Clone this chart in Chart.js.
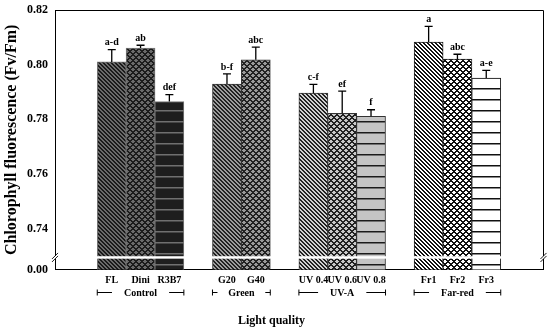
<!DOCTYPE html>
<html><head><meta charset="utf-8">
<script src="https://cdn.jsdelivr.net/npm/chart.js@4.4.0/dist/chart.umd.min.js"></script>
<style>html,body{margin:0;padding:0;background:#fff}#wrap{width:550px;height:333px}</style>
</head><body><div id="wrap"><canvas id="c" width="550" height="333"></canvas></div>
<script>
// ---- data ----
const treatments = ['FL','Dini','R3B7','G20','G40','UV 0.4','UV 0.6','UV 0.8','Fr1','Fr2','Fr3'];
const slotIndex  = [0,1,2,4,5,7,8,9,11,12,13];
const fvfm       = [0.8010,0.8061,0.7865,0.7929,0.8018,0.7896,0.7822,0.7811,0.8083,0.8020,0.7951];
const stdErr     = [0.0045,0.0010,0.0025,0.0037,0.0046,0.0032,0.0081,0.0024,0.0057,0.0018,0.0028];
const letters    = ['a-d','ab','def','b-f','abc','c-f','ef','f','a','abc','a-e'];
const groups       = ['Control','Green','UV-A','Far-red'];
const groupFirst   = [0,3,5,8];
const groupLast    = [2,4,7,10];
const yTickValues  = [0.74,0.76,0.78,0.80,0.82];
const yZeroLabel   = '0.00';
const axisBottom   = 0.725;   // value position where the broken axis shows 0.00
const breakLow     = 0.7290;  // axis break gap
const breakHigh    = 0.7299;

const SERIF = "'Liberation Serif','Times New Roman',serif";

// ---- fill patterns ----
function tile(w,h,fn){
  const c=document.createElement('canvas');c.width=w;c.height=h;
  const g=c.getContext('2d');
  for(let y=0;y<h;y++)for(let x=0;x<w;x++){g.fillStyle=fn(x,y);g.fillRect(x,y,1,1);}
  return g.createPattern(c,'repeat');
}
function diag(light,dark){return tile(4,4,(x,y)=>(((x-y+8)%4)<2)?dark:light);}
function cross(light,dark){const p=6;return tile(p,p,(x,y)=>((((x-y+2*p)%p)<2)||(((x+y)%p)<2))?dark:light);}
function horiz(bg,line,mid){return tile(1,11,(x,y)=>y===0?line:(y===1?mid:bg));}

const fills = [
  diag('#6a6a6a','#1a1a1a'),
  cross('#6a6a6a','#1c1c1c'),
  horiz('#1e1e1e','#707070','#474747'),
  diag('#9c9c9c','#222'),
  cross('#9a9a9a','#222'),
  diag('#d0d0d0','#222'),
  cross('#c8c8c8','#222'),
  horiz('#c4c4c4','#1a1a1a','#707070'),
  diag('#ffffff','#111'),
  cross('#ffffff','#111'),
  horiz('#ffffff','#111','#888')
];
const borders = ['#777','#777','#777','#333','#333','#333','#333','#333','#222','#222','#222'];

// ---- plugin drawing error bars, letters, break, frame, group brackets ----
const decor = {
  id:'decor',
  afterDatasetsDraw(chart){
    const {ctx,chartArea:a,scales:{x,y}} = chart;
    ctx.save();
    const yb1=y.getPixelForValue(breakHigh), yb2=y.getPixelForValue(breakLow);
    ctx.fillStyle='#fff';
    ctx.fillRect(a.left+1,yb1,a.right-a.left-2,yb2-yb1);
    const meta=chart.getDatasetMeta(0);
    ctx.strokeStyle='#000';ctx.lineWidth=1.3;
    ctx.font='bold 10px '+SERIF;ctx.fillStyle='#000';ctx.textAlign='center';ctx.textBaseline='bottom';
    meta.data.forEach((el,i)=>{
      const yt=y.getPixelForValue(fvfm[i]+stdErr[i]);
      ctx.beginPath();
      ctx.moveTo(el.x,el.y);ctx.lineTo(el.x,yt);
      ctx.moveTo(el.x-4,yt);ctx.lineTo(el.x+4,yt);
      ctx.stroke();
      ctx.fillText(letters[i],el.x,yt-2);
    });
    ctx.restore();
  },
  afterDraw(chart){
    const {ctx,chartArea:a,scales:{x,y}} = chart;
    ctx.save();
    ctx.strokeStyle='#000';ctx.lineWidth=1;
    ctx.beginPath();
    ctx.moveTo(a.left,a.top+0.5);ctx.lineTo(a.right+0.5,a.top+0.5);ctx.lineTo(a.right+0.5,a.bottom);
    ctx.stroke();
    const yb=(y.getPixelForValue(breakHigh)+y.getPixelForValue(breakLow))/2;
    [a.left,a.right+0.5].forEach(xx=>{
      ctx.fillStyle='#fff';ctx.fillRect(xx-2,yb-1.5,4,3);
      ctx.beginPath();
      ctx.moveTo(xx-3,yb+1.5);ctx.lineTo(xx+3,yb-4.5);
      ctx.moveTo(xx-3,yb+4.5);ctx.lineTo(xx+3,yb-1.5);
      ctx.lineWidth=0.9;ctx.stroke();
    });
    ctx.font='bold 10px '+SERIF;ctx.fillStyle='#000';ctx.textAlign='center';ctx.textBaseline='alphabetic';
    const half=14.5, gy=292.5, gap=12;
    ctx.lineWidth=1;
    groups.forEach((g,k)=>{
      const x0=x.getPixelForValue(slotIndex[groupFirst[k]])-half;
      const x1=x.getPixelForValue(slotIndex[groupLast[k]])+half;
      const xc=(x.getPixelForValue(slotIndex[groupFirst[k]])+x.getPixelForValue(slotIndex[groupLast[k]]))/2;
      const w=ctx.measureText(g).width;
      ctx.fillText(g,xc,gy+3.3);
      ctx.beginPath();
      ctx.moveTo(x0,gy);ctx.lineTo(Math.max(x0+5,xc-w/2-gap),gy);
      ctx.moveTo(Math.min(x1-5,xc+w/2+gap),gy);ctx.lineTo(x1,gy);
      ctx.moveTo(x0,gy-3);ctx.lineTo(x0,gy+3);
      ctx.moveTo(x1,gy-3);ctx.lineTo(x1,gy+3);
      ctx.stroke();
    });
    ctx.restore();
  }
};

new Chart(document.getElementById('c'),{
  type:'bar',
  data:{datasets:[{
    data:slotIndex.map((s,i)=>({x:s,y:fvfm[i]})),
    backgroundColor:fills,
    borderColor:borders,
    borderWidth:1,
    barThickness:29,
    clip:0
  }]},
  options:{
    responsive:false,animation:false,events:[],
    layout:{padding:{left:0,right:7,top:10,bottom:0}},
    plugins:{
      legend:{display:false},tooltip:{enabled:false},
      title:{display:true,position:'bottom',text:'Light quality',color:'#000',
        font:{family:SERIF,size:12,weight:'bold'},padding:{top:0,bottom:5}}
    },
    scales:{
      x:{type:'linear',min:-1.2,max:14.2,
        grid:{display:false,drawTicks:false},
        border:{display:true,color:'#000',width:1},
        afterBuildTicks:s=>{s.ticks=slotIndex.map(v=>({value:v}));},
        afterFit:s=>{s.height=44;},
        ticks:{autoSkip:false,maxRotation:0,padding:5,color:'#000',
          font:{family:SERIF,size:10,weight:'bold'},
          callback:v=>{const i=slotIndex.indexOf(v);return i>=0?treatments[i]:'';}}
      },
      y:{min:axisBottom,max:0.82,
        grid:{display:false,drawTicks:true,tickLength:7},
        border:{display:true,color:'#000',width:1},
        afterBuildTicks:s=>{s.ticks=[axisBottom,...yTickValues].map(v=>({value:v}));},
        afterFit:s=>{s.width=55;},
        ticks:{padding:0,color:'#000',font:{family:SERIF,size:12,weight:'bold'},
          callback:v=>v<breakLow?yZeroLabel:v.toFixed(2)},
        title:{display:true,text:'Chlorophyll fluorescence (Fv/Fm)',color:'#000',
          font:{family:SERIF,size:16,weight:'bold'},padding:{top:2,bottom:0}}
      }
    }
  },
  plugins:[decor]
});
</script></body></html>
